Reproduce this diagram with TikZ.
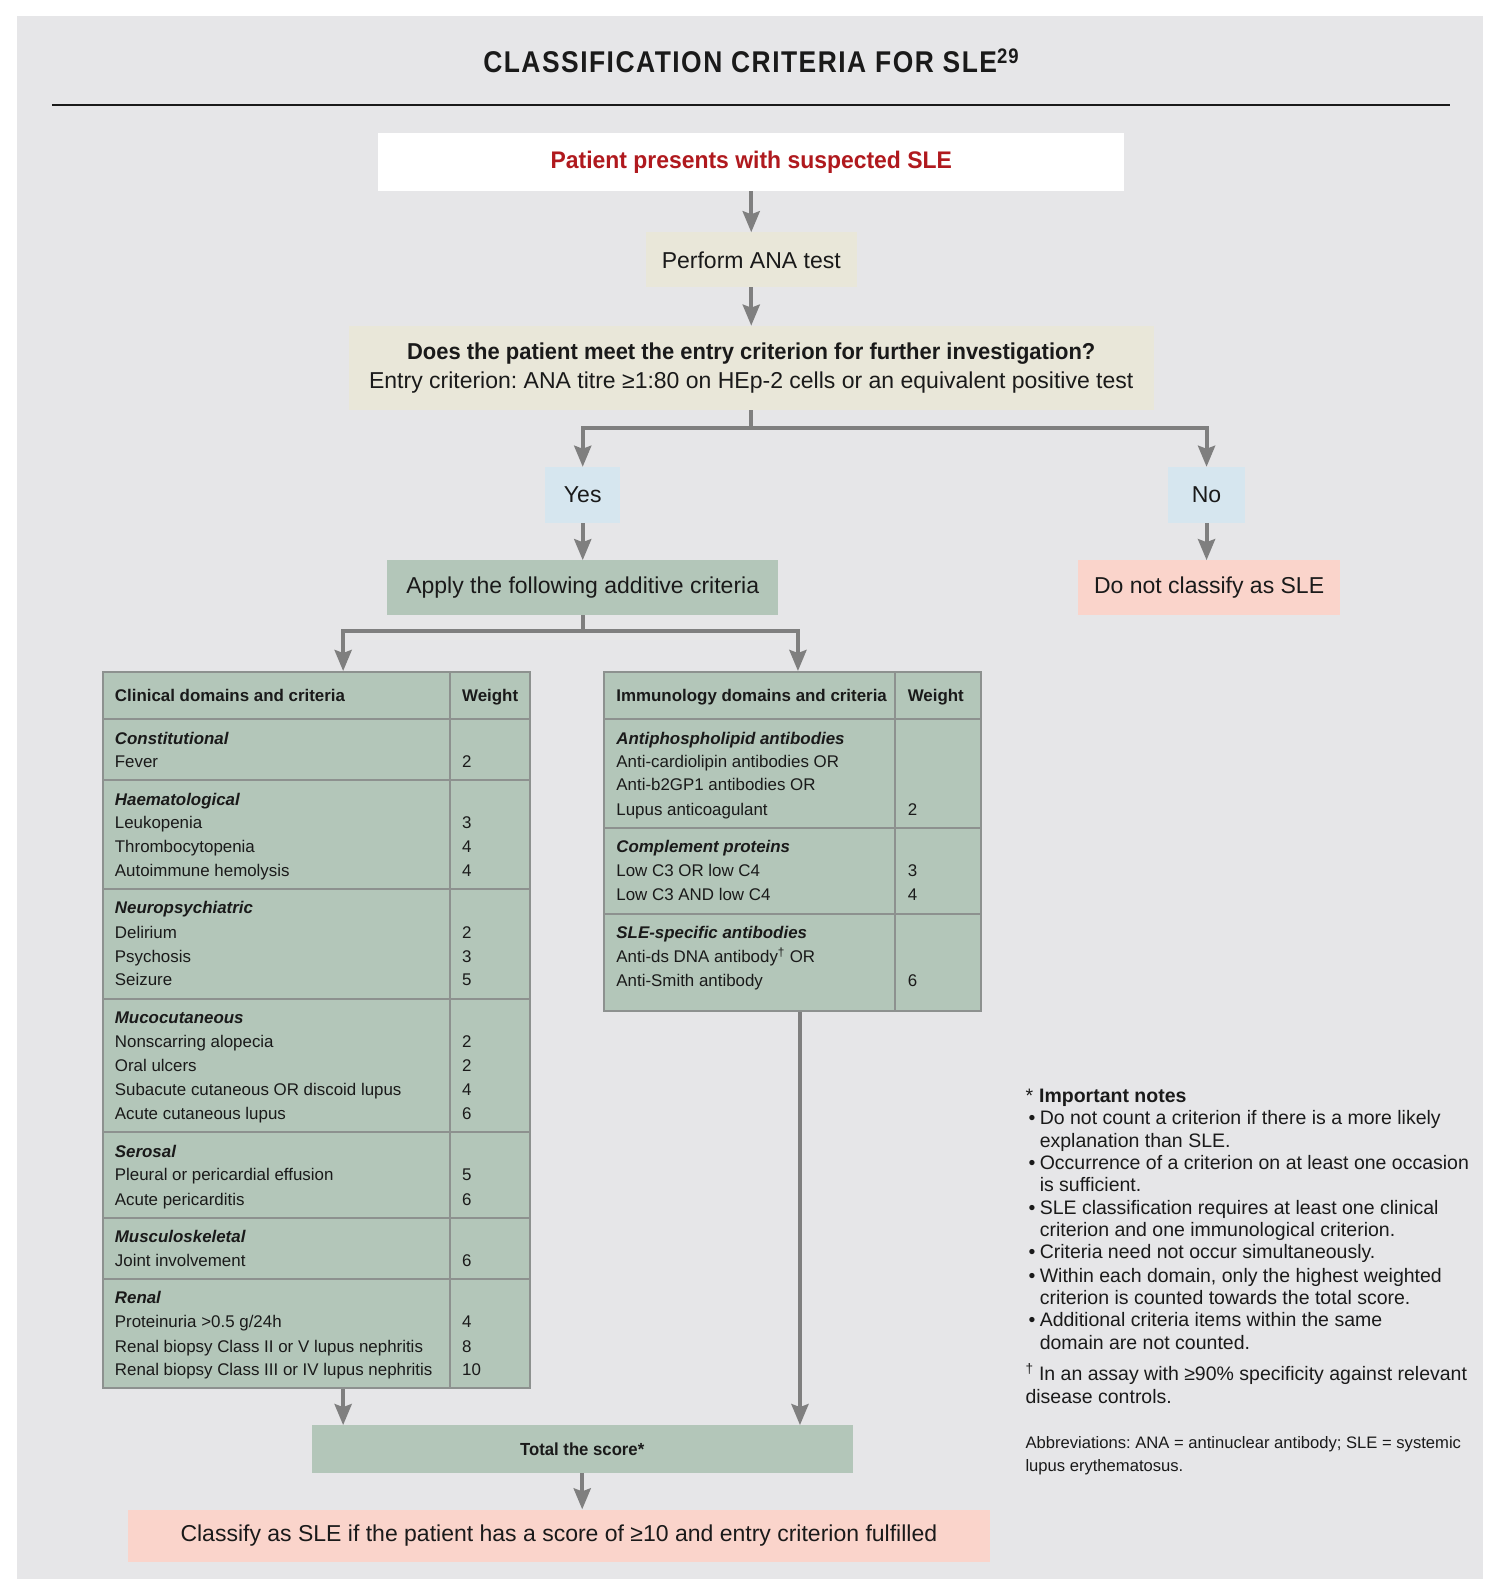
\documentclass[tikz,border=0pt]{standalone}
\usepackage{fontspec}
\setmainfont{Liberation Sans}
\newfontfamily\boxf{Liberation Sans}
\newfontfamily\boxbf[FakeStretch=0.955]{Liberation Sans}
\newfontfamily\titlef[FakeStretch=0.88,LetterSpace=5]{Liberation Sans}
\usetikzlibrary{arrows.meta}
\frenchspacing
\definecolor{bggray}{HTML}{E6E6E8}
\definecolor{beige}{HTML}{E9E7D9}
\definecolor{ltblue}{HTML}{D6E6EF}
\definecolor{sage}{HTML}{B3C6B9}
\definecolor{pinkbox}{HTML}{FAD4CB}
\definecolor{arrgray}{HTML}{7F7F7F}
\definecolor{tblline}{HTML}{8D918F}
\definecolor{sleRed}{HTML}{B0191E}
\definecolor{ink}{HTML}{1A1A1A}
\tikzset{
  sz/.style 2 args={minimum width=#1*1.0152pt, minimum height=#2*1.0152pt},
  box/.style={draw=none, inner sep=0pt, align=center, text=ink, font=\boxf\fontsize{23}{29.5}\selectfont},
  arr/.style={draw=arrgray, line width=4pt, -{Stealth[length=21pt,width=17pt,inset=3pt]}},
  conn/.style={draw=arrgray, line width=4pt},
  tline/.style={draw=tblline, line width=2pt},
  tbl/.style={draw=tblline, line width=2pt, fill=sage, inner sep=0pt},
  cell/.style={anchor=base west, inner sep=0pt, text=ink, font=\fontsize{16.9}{19}\selectfont},
  hcell/.style={cell, font=\bfseries\fontsize{16.9}{19}\selectfont},
  dcell/.style={cell, font=\bfseries\itshape\fontsize{16.9}{19}\selectfont},
  note/.style={anchor=base west, inner sep=0pt, text=ink, font=\fontsize{19.5}{22}\selectfont},
  abbr/.style={anchor=base west, inner sep=0pt, text=ink, font=\fontsize{16.6}{19}\selectfont},
}
\begin{document}
\begin{tikzpicture}[x=1.0152pt,y=-1.0152pt]
\useasboundingbox (0,0) rectangle (1477.5,1567.2);
\fill[bggray] (17,16) rectangle (1461,1555);

% title
\node[inner sep=0pt, text=ink, font=\titlef\bfseries\fontsize{30}{32}\selectfont] (title) at (740,60) {CLASSIFICATION CRITERIA FOR SLE\textsuperscript{29}};
\draw[ink, line width=2pt] (51,103) -- (1428,103);

% flow boxes
\node[box, fill=white, sz={735}{57}, text=sleRed, font=\boxbf\bfseries\fontsize{24}{28}\selectfont] (start) at (740,159.5) {Patient presents with suspected SLE};
\node[box, fill=beige, sz={208}{54}] (ana) at (740,256) {Perform ANA test};
\node[box, fill=beige, sz={793}{83}] (entry) at (740,362.5) {{\boxbf\bfseries Does the patient meet the entry criterion for further investigation?}\\Entry criterion: ANA titre ≥1:80 on HEp-2 cells or an equivalent positive test};
\node[box, fill=ltblue, sz={74}{55}] (yes) at (574,487.5) {Yes};
\node[box, fill=ltblue, sz={75}{55}] (no) at (1188.5,487.5) {No};
\node[box, fill=sage, sz={385}{54}] (apply) at (574,579) {Apply the following additive criteria};
\node[box, fill=pinkbox, sz={258}{54}] (notsle) at (1191,579) {Do not classify as SLE};
\node[box, fill=sage, sz={533}{47}, font=\boxbf\bfseries\fontsize{17.5}{20}\selectfont] (total) at (573.5,1427.5) {Total the score*};
\node[box, fill=pinkbox, sz={849}{52}] (final) at (550.5,1513) {Classify as SLE if the patient has a score of ≥10 and entry criterion fulfilled};

% tables
\node[tbl, sz={421}{705}] (clin) at (311.5,1014.5) {};
\node[tbl, sz={371}{334}] (imm) at (780.5,829) {};

% connectors
\draw[arr] (start) -- (ana);
\draw[arr] (ana) -- (entry);
\coordinate (j1) at (740,422);
\draw[conn] (entry.south) -- (j1);
\draw[arr] (j1) -| (yes.north);
\draw[arr] (j1) -| (no.north);
\draw[arr] (yes) -- (apply);
\draw[arr] (no.south) -- (no.south |- notsle.north);
\coordinate (j2) at (574,622);
\coordinate (clinIn) at (338,661);
\coordinate (immIn) at (786,661);
\draw[conn] (apply.south) -- (j2);
\draw[arr] (j2) -| (clinIn);
\draw[arr] (j2) -| (immIn);
\coordinate (clinOut) at (338,1368);
\coordinate (immOut) at (788,997);
\draw[arr] (clinOut) -- (clinOut |- total.north);
\draw[arr] (immOut) -- (immOut |- total.north);
\draw[arr] (total) -- (total.south |- final.north);

% clinical table lines
\draw[tline] (443,662) -- (443,1367);
\foreach \yy in {708,768,876,984,1115,1200,1260} \draw[tline] (101,\yy) -- (522,\yy);
\node[hcell] (ch1) at (113,691) {Clinical domains and criteria};
\node[hcell] (ch2) at (455,691) {Weight};
\foreach \yy/\tt in {727/Constitutional,787/Haematological,894/Neuropsychiatric,1002/Mucocutaneous,1134/Serosal,1218/Musculoskeletal,1278/Renal}
  \node[dcell] (cd\yy) at (113,\yy+6) {\tt};
\foreach \yy/\tt/\ww in {750/Fever/2,810/Leukopenia/3,834/Thrombocytopenia/4,857/{Autoimmune hemolysis}/4,918/Delirium/2,942/Psychosis/3,965/Seizure/5,1026/{Nonscarring alopecia}/2,1049/{Oral ulcers}/2,1073/{Subacute cutaneous OR discoid lupus}/4,1097/{Acute cutaneous lupus}/6,1157/{Pleural or pericardial effusion}/5,1181/{Acute pericarditis}/6,1242/{Joint involvement}/6,1302/{Proteinuria >0.5 g/24h}/4,1326/{Renal biopsy Class II or V lupus nephritis}/8,1349/{Renal biopsy Class III or IV lupus nephritis}/10}
  {\node[cell] (ct\yy) at (113,\yy+6) {\tt};
   \node[cell] (cw\yy) at (455,\yy+6) {\ww};}

% immunology table lines
\draw[tline] (882,662) -- (882,996);
\foreach \yy in {708,816,900} \draw[tline] (595,\yy) -- (966,\yy);
\node[hcell] (ih1) at (607,691) {Immunology domains and criteria};
\node[hcell] (ih2) at (894,691) {Weight};
\foreach \yy/\tt in {727/Antiphospholipid antibodies,834/Complement proteins,918/SLE-specific antibodies}
  \node[dcell] (id\yy) at (607,\yy+6) {\tt};
\foreach \yy/\tt in {750/Anti-cardiolipin antibodies OR,773/Anti-b2GP1 antibodies OR,797/Lupus anticoagulant,857/Low C3 OR low C4,881/Low C3 AND low C4,942/{Anti-ds DNA antibody\textsuperscript{†} OR},966/Anti-Smith antibody}
  \node[cell] (it\yy) at (607,\yy+6) {\tt};
\foreach \yy/\ww in {797/2,857/3,881/4,966/6}
  \node[cell] (iw\yy) at (894,\yy+6) {\ww};

% notes
\node[note] (n0) at (1010,1086) {*\hspace{6pt}\textbf{Important notes}};
\foreach \yy in {1108,1152,1196,1240,1263,1307}
  \node[note] (b\yy) at (1013,\yy) {•};
\node[note] (n1) at (1024,1108) {Do not count a criterion if there is a more likely};
\node[note] (n2) at (1024,1130) {explanation than SLE.};
\node[note] (n3) at (1024,1152) {Occurrence of a criterion on at least one occasion};
\node[note] (n4) at (1024,1174) {is sufficient.};
\node[note] (n5) at (1024,1196) {SLE classification requires at least one clinical};
\node[note] (n6) at (1024,1218) {criterion and one immunological criterion.};
\node[note] (n7) at (1024,1240) {Criteria need not occur simultaneously.};
\node[note] (n8) at (1024,1263) {Within each domain, only the highest weighted};
\node[note] (n9) at (1024,1285) {criterion is counted towards the total score.};
\node[note] (n10) at (1024,1307) {Additional criteria items within the same};
\node[note] (n11) at (1024,1329) {domain are not counted.};
\node[note] (n12) at (1010,1360) {\textsuperscript{†} In an assay with ≥90\% specificity against relevant};
\node[note] (n13) at (1010,1382) {disease controls.};
\node[abbr] (n14) at (1010,1427) {Abbreviations: ANA = antinuclear antibody; SLE = systemic};
\node[abbr] (n15) at (1010,1449) {lupus erythematosus.};
\end{tikzpicture}
\end{document}
